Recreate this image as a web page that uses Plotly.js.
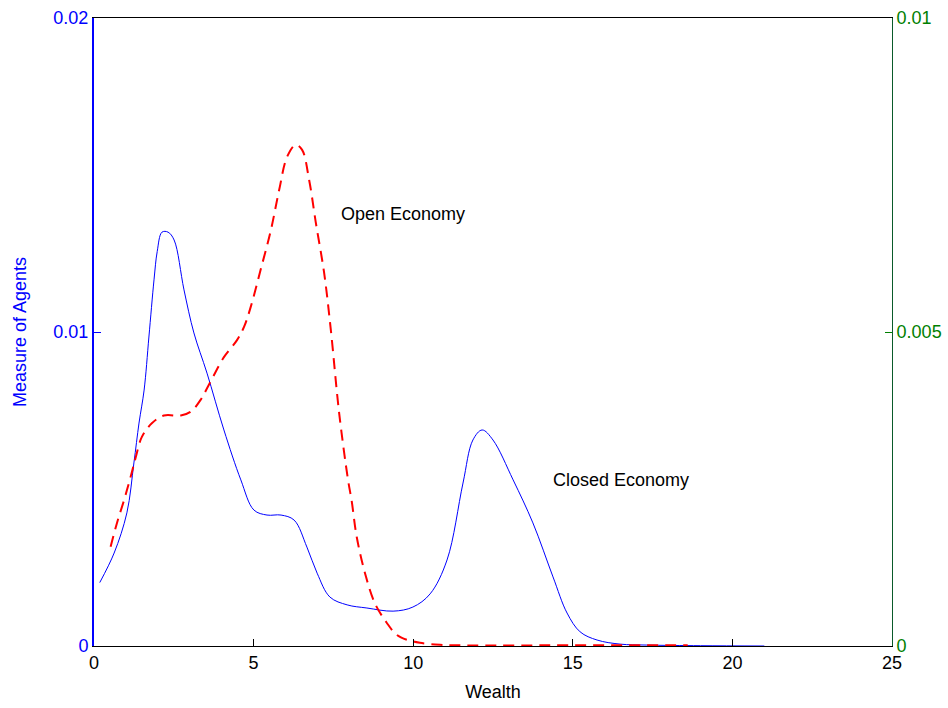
<!DOCTYPE html>
<html>
<head>
<meta charset="utf-8">
<script src="https://cdn.plot.ly/plotly-3.0.1.min.js"></script>
<style>html,body{margin:0;padding:0;background:#fff;}#chart{width:948px;height:708px;}</style>
</head>
<body>
<div id="chart"></div>
<script>
// Closed economy (left axis)
const closedWealth = [0.18,0.63,1.03,1.25,1.41,1.57,1.72,1.88,1.98,2.13,2.32,2.51,2.82,3.13,3.54,4.07,4.60,5.01,5.42,5.86,6.27,6.67,6.99,7.39,7.93,8.55,9.37,9.99,10.53,11.06,11.56,11.87,12.16,12.50,13.13,13.75,14.38,14.82,15.23,15.76,16.48,17.32,19.0,21.0];
const closedMeasure = [0.00202,0.00296,0.00424,0.00583,0.00710,0.00815,0.00984,0.01166,0.01256,0.01318,0.01318,0.01293,0.01134,0.00997,0.00869,0.00688,0.00529,0.00433,0.00417,0.00417,0.00401,0.00315,0.00232,0.00156,0.00131,0.00121,0.00111,0.00124,0.00166,0.00274,0.00519,0.00656,0.00688,0.00656,0.00529,0.00392,0.00220,0.00105,0.00045,0.00019,0.00006,0.00003,0.00001,0.0];
// Open economy (right axis)
const openWealth = [0.52,0.72,0.94,1.15,1.31,1.50,1.82,2.19,2.72,3.03,3.34,3.60,4.07,4.48,4.70,4.91,5.22,5.54,5.80,6.05,6.32,6.52,6.74,6.95,7.21,7.42,7.68,7.96,8.07,8.23,8.49,8.80,9.17,9.48,9.80,10.21,10.84,11.47,14.0,18.6];
const openMeasure = [0.00158,0.00196,0.00232,0.00270,0.00301,0.00333,0.00355,0.00367,0.00367,0.00373,0.00392,0.00416,0.00460,0.00487,0.00508,0.00540,0.00599,0.00662,0.00726,0.00779,0.00798,0.00790,0.00742,0.00674,0.00594,0.00503,0.00371,0.00264,0.00232,0.00174,0.00116,0.00068,0.00037,0.00018,0.00010,0.00005,0.00002,0.00001,0.00001,0.00001];

const xTicks = [0,5,10,15,20,25];
const xTickText = ['0','5','10','15','20','25'];
const yTicks = [0,0.01,0.02];
const yTickText = ['0','0.01','0.02'];
const y2Ticks = [0,0.005,0.01];
const y2TickText = ['0','0.005','0.01'];

const font = 'Liberation Sans, Arial, sans-serif';
const blue = '#0000ff';
const green = '#008000';
const fs = 18;

const traces = [
  {x: closedWealth, y: closedMeasure, type:'scatter', mode:'lines', yaxis:'y',
   line:{color:blue, width:1, shape:'spline', smoothing:1}, hoverinfo:'skip'},
  {x: openWealth, y: openMeasure, type:'scatter', mode:'lines', yaxis:'y2',
   line:{color:'#ff0000', width:2, dash:'11px,7px', shape:'spline', smoothing:1}, hoverinfo:'skip'}
];

const layout = {
  width:948, height:708,
  margin:{l:94, r:56, t:18, b:62},
  paper_bgcolor:'#fff', plot_bgcolor:'#fff',
  showlegend:false,
  font:{family:font, size:fs, color:'#000'},
  xaxis:{range:[0,25], tickvals:xTicks, ticktext:xTickText, ticks:'inside', ticklen:7,
    tickcolor:'#000', showline:true, linecolor:'#000', linewidth:1, mirror:true,
    showgrid:false, zeroline:false, tickfont:{size:fs, color:'#000'},
    title:{text:'Wealth', font:{size:fs, color:'#000'}, standoff:13}},
  yaxis:{range:[0,0.02], tickvals:yTicks, ticktext:yTickText, ticks:'inside', ticklen:7,
    tickcolor:blue, showline:true, linecolor:blue, linewidth:2, showgrid:false, zeroline:false,
    tickfont:{size:fs, color:blue},
    title:{text:'Measure of Agents', font:{size:fs, color:blue}, standoff:22}},
  yaxis2:{range:[0,0.01], tickvals:y2Ticks, ticktext:y2TickText, overlaying:'y', side:'right',
    ticks:'inside', ticklen:7, tickcolor:green, showline:true, linecolor:'#0a5a2a', linewidth:1,
    showgrid:false, zeroline:false, tickfont:{size:fs, color:green}},
  annotations:[
    {x:7.68, y:0.01375, xref:'x', yref:'y', text:'Open Economy', showarrow:false, xanchor:'left', yanchor:'middle', font:{size:fs, color:'#000'}},
    {x:14.32, y:0.00529, xref:'x', yref:'y', text:'Closed Economy', showarrow:false, xanchor:'left', yanchor:'middle', font:{size:fs, color:'#000'}}
  ]
};

Plotly.newPlot('chart', traces, layout, {displayModeBar:false, staticPlot:true});
</script>
</body>
</html>
